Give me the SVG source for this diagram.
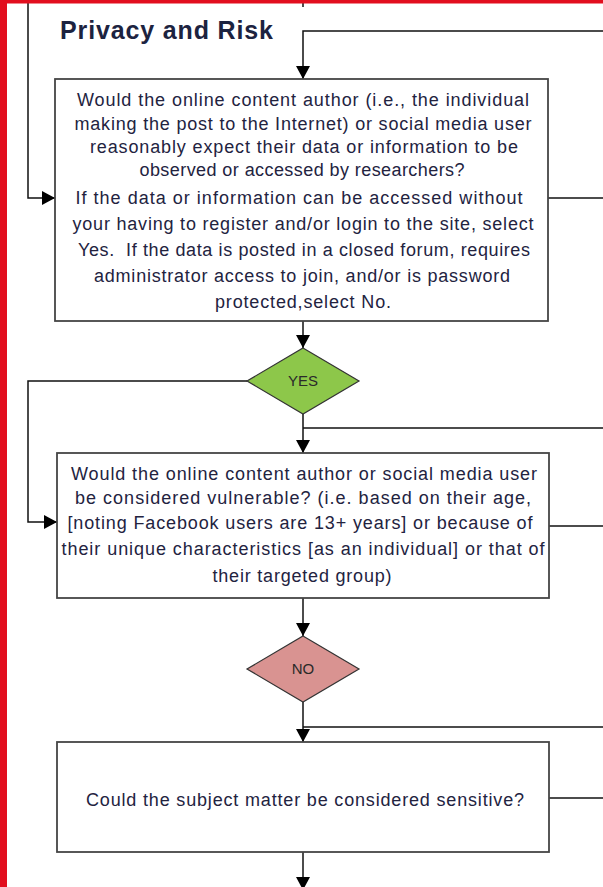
<svg xmlns="http://www.w3.org/2000/svg" width="603" height="887" viewBox="0 0 603 887">
<style>
.box{fill:#ffffff;stroke:#454545;stroke-width:1.8}
.con{fill:none;stroke:#111111;stroke-width:1.5}
.t{font-family:"Liberation Sans",Arial,sans-serif;font-size:18px;fill:#23233f;text-anchor:middle}
.dt{font-family:"Liberation Sans",Arial,sans-serif;font-size:15px;fill:#2a2a2a;text-anchor:middle}
.title{font-family:"Liberation Sans",Arial,sans-serif;font-size:25px;font-weight:bold;fill:#1c2340}
</style>
<defs>
<marker id="arr" viewBox="0 0 13 14" refX="13" refY="7" markerWidth="13" markerHeight="14" markerUnits="userSpaceOnUse" orient="auto">
<path d="M0,0 L13,7 L0,14 z" fill="#000000"/>
</marker>
</defs>
<rect x="0" y="0" width="603" height="887" fill="#ffffff"/>

<g id="connectors">
<path class="con" d="M303,0 V7"/>
<path class="con" d="M603,31 H303 V79" marker-end="url(#arr)"/>
<path class="con" d="M28,0 V198 H55" marker-end="url(#arr)"/>
<path class="con" d="M548,198 H603"/>
<path class="con" d="M303,321 V348" marker-end="url(#arr)"/>
<path class="con" d="M247,381 H28 V522 H57" marker-end="url(#arr)"/>
<path class="con" d="M303,414 V453" marker-end="url(#arr)"/>
<path class="con" d="M303,428 H603"/>
<path class="con" d="M549,526 H603"/>
<path class="con" d="M303,598 V636" marker-end="url(#arr)"/>
<path class="con" d="M303,702 V742" marker-end="url(#arr)"/>
<path class="con" d="M303,727 H603"/>
<path class="con" d="M549,798 H603"/>
<path class="con" d="M303,852 V890" marker-end="url(#arr)"/>
</g>

<g id="title">
<text class="title" x="60" y="39" textLength="213">Privacy and Risk</text>
</g>

<g id="box1">
<rect class="box" x="55" y="79" width="493" height="242"/>
<text class="t" x="303" y="106" textLength="452">Would the online content author (i.e., the individual</text>
<text class="t" x="303" y="130" textLength="457">making the post to the Internet) or social media user</text>
<text class="t" x="304" y="153" textLength="428">reasonably expect their data or information to be</text>
<text class="t" x="302" y="176" textLength="325">observed or accessed by researchers?</text>
<text class="t" x="299" y="204" textLength="447">If the data or information can be accessed without</text>
<text class="t" x="303" y="230" textLength="461">your having to register and/or login to the site, select</text>
<text class="t" x="304" y="256" textLength="452" xml:space="preserve">Yes.  If the data is posted in a closed forum, requires</text>
<text class="t" x="302" y="282" textLength="416">administrator access to join, and/or is password</text>
<text class="t" x="303" y="308" textLength="176">protected,select No.</text>
</g>

<g id="yes">
<polygon points="303,348 359,381 303,414 247,381" fill="#8DC74A" stroke="#333333" stroke-width="1.2"/>
<text class="dt" x="303" y="386">YES</text>
</g>

<g id="box2">
<rect class="box" x="57" y="453" width="492" height="145"/>
<text class="t" x="304" y="480" textLength="466">Would the online content author or social media user</text>
<text class="t" x="303" y="504" textLength="456">be considered vulnerable? (i.e. based on their age,</text>
<text class="t" x="300" y="529" textLength="465">[noting Facebook users are 13+ years] or because of</text>
<text class="t" x="303" y="555" textLength="483">their unique characteristics [as an individual] or that of</text>
<text class="t" x="302" y="582" textLength="179">their targeted group)</text>
</g>

<g id="no">
<polygon points="303,636 359,669 303,702 247,669" fill="#D99391" stroke="#333333" stroke-width="1.2"/>
<text class="dt" x="303" y="674">NO</text>
</g>

<g id="box3">
<rect class="box" x="57" y="742" width="492" height="110"/>
<text class="t" x="305" y="806" textLength="438">Could the subject matter be considered sensitive?</text>
</g>

<g id="frame">
<rect x="0" y="0" width="7" height="887" fill="#E20E1E"/>
<rect x="0" y="0" width="603" height="3.5" fill="#E20E1E"/>
</g>
</svg>
